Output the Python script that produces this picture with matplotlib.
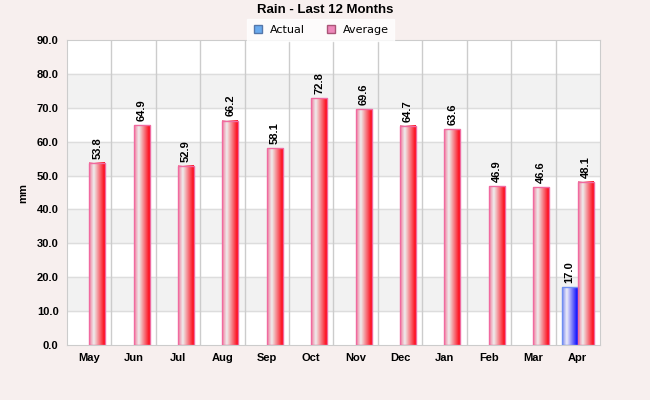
import numpy as np
import matplotlib.pyplot as plt
from matplotlib.colors import LinearSegmentedColormap
from matplotlib.lines import Line2D

months = ["May", "Jun", "Jul", "Aug", "Sep", "Oct", "Nov", "Dec", "Jan", "Feb", "Mar", "Apr"]
average = [53.8, 64.9, 52.9, 66.2, 58.1, 72.8, 69.6, 64.7, 63.6, 46.9, 46.6, 48.1]
actual = [None, None, None, None, None, None, None, None, None, None, None, 17.0]

bg = "#f7efee"
red_cmap = LinearSegmentedColormap.from_list("r", [(0, "#f07a9a"), (0.3, "#eeeeee"), (1, "#ff0010")])
blue_cmap = LinearSegmentedColormap.from_list("b", [(0, "#7a86f0"), (0.3, "#eeeef8"), (1, "#0000ff")])

fig = plt.figure(figsize=(6.5, 4), dpi=100, facecolor=bg)
ax = fig.add_axes([0.103, 0.1375, 0.82, 0.7625])
ax.set_facecolor("white")

x = np.arange(len(months))
w = 0.36

# alternating bands
for lo in range(10, 90, 20):
    ax.axhspan(lo, lo + 10, color="#f2f2f2", zorder=0)
for yv in range(10, 90, 10):
    ax.axhline(yv, color="#dddddd", lw=1, zorder=0.5)
for xv in x[1:]:
    ax.axvline(xv - 0.5, color="#cccccc", lw=1, zorder=0.5)

grad = np.linspace(0, 1, 64).reshape(1, -1)

def draw_bars(vals, offset, cmap, edge):
    xs = [xi + offset for xi, v in zip(x, vals) if v is not None]
    hs = [v for v in vals if v is not None]
    bars = ax.bar(xs, hs, width=w, facecolor="none", edgecolor=edge, lw=1, zorder=3)
    for b, v in zip(bars, hs):
        x0, y0 = b.get_x(), b.get_y()
        ax.imshow(grad, cmap=cmap, aspect="auto", extent=(x0, x0 + b.get_width(), y0, y0 + v),
                  zorder=2, interpolation="bilinear")
        ax.annotate(f"{v:.1f}", (x0 + b.get_width() / 2, v), xytext=(0, 3), textcoords="offset points",
                    rotation=90, ha="center", va="bottom", fontsize=8, fontweight="bold",
                    family="Liberation Sans")

draw_bars(actual, -w / 2, blue_cmap, "#6f8ff0")
draw_bars(average, w / 2, red_cmap, "#f06aa0")

ax.set_xlim(-0.5, len(months) - 0.5)
ax.set_ylim(0, 90)
ax.set_yticks(np.arange(0, 91, 10))
ax.set_yticklabels([f"{t:.1f}" for t in range(0, 91, 10)])
ax.set_xticks(x)
ax.set_xticklabels(months)
for lab in ax.get_xticklabels() + ax.get_yticklabels():
    lab.set_fontweight("bold")
    lab.set_family("Liberation Sans")
    lab.set_fontsize(8)
ax.tick_params(length=0, pad=6)
for s in ax.spines.values():
    s.set_color("#cccccc")
ax.set_ylabel("mm", fontsize=8, fontweight="bold", family="Liberation Sans", labelpad=6)

fig.text(0.5, 0.975, "Rain - Last 12 Months", ha="center", va="center", fontsize=9.5,
         fontweight="bold", family="Liberation Sans")

handles = [Line2D([], [], marker="s", ls="none", markersize=6, markerfacecolor="#6aaaee", markeredgecolor="#5577aa"),
           Line2D([], [], marker="s", ls="none", markersize=6, markerfacecolor="#ee88bb", markeredgecolor="#aa5577")]
leg = fig.legend(handles, ["Actual", "Average"], loc="center", bbox_to_anchor=(0.493, 0.925), ncol=2,
                 frameon=True, fancybox=False, fontsize=8, handletextpad=0.6, columnspacing=1.8,
                 borderpad=0.5, handlelength=1)
leg.get_frame().set_facecolor("white")
leg.get_frame().set_edgecolor("white")

fig.savefig("out.png", dpi=100, facecolor=bg)
